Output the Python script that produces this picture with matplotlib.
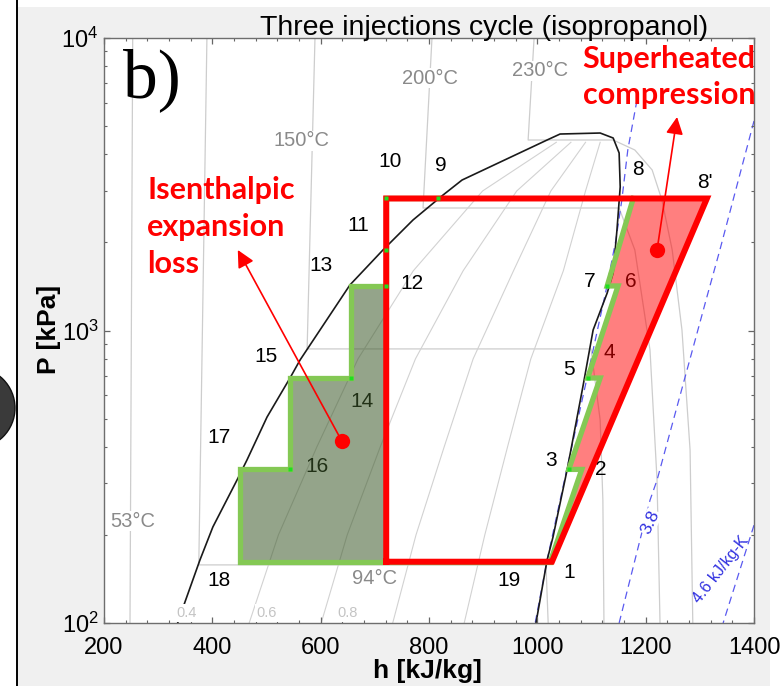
import numpy as np
import matplotlib
matplotlib.use("Agg")
import matplotlib.pyplot as plt
from matplotlib.patches import Rectangle, Ellipse
from matplotlib.lines import Line2D
from matplotlib.ticker import MultipleLocator, LogLocator, NullFormatter, FixedLocator

plt.rcParams['font.family'] = ['Liberation Sans', 'DejaVu Sans']
plt.rcParams['mathtext.fontset'] = 'custom'
plt.rcParams['mathtext.rm'] = 'Liberation Sans'
plt.rcParams['mathtext.it'] = 'Liberation Sans'

# ---------------- data ----------------
title = "Three injections cycle (isopropanol)"
x_label = "h [kJ/kg]"
y_label = "P [kPa]"
x_ticks = [200, 400, 600, 800, 1000, 1200, 1400]
y_ticks = [100, 1000, 10000]

# saturation dome (liquid branch up to the top, then vapour branch down)
sat_h = [336, 349.5, 377, 401, 445.5, 464, 501, 543.4, 562, 654, 715, 770.5, 826, 861,
         1018, 1042, 1116, 1140, 1151, 1153, 1147, 1140, 1129, 1103, 1084, 1055, 1029, 1018, 997.5]
sat_P = [100, 118, 164, 213, 308, 361, 506, 688, 793, 1431, 1885, 2387, 2906, 3269,
         4480, 4696, 4733, 4551, 4045, 3095, 2206, 1573, 1344, 1004, 641, 334, 197, 164, 100]

# isotherms (grey)
iso_53_h = [253, 248]
iso_53_P = [10000, 100]
iso_94_h = [390, 375, 1016, 1020]
iso_94_P = [10000, 158, 158, 100]
iso_150_h = [589.5, 575, 1099, 1116, 1121, 1123]
iso_150_P = [10000, 865, 865, 494, 263, 100]
iso_200_h = [805.5, 789, 1151, 1180, 1208, 1221, 1226.5]
iso_200_P = [10000, 2623, 2623, 1885, 858, 308, 100]
iso_230_h = [994, 983, 1140, 1180, 1212, 1230, 1249, 1267, 1282, 1287]
iso_230_P = [10000, 4480, 4480, 4141, 3538, 2794, 1885, 1004, 390, 100]

# quality lines in the two-phase region (grey)
q_P = [100, 200, 400, 800, 1600, 3000, 4400]
q02_h = [468, 522, 593, 669, 771, 899, 1035]
q04_h = [601, 649, 710, 775, 863, 962, 1062]
q06_h = [733, 776, 828, 881.5, 956, 1025, 1089]
q08_h = [865, 903, 945, 988, 1048, 1089, 1116]

# isentropes (blue dashed)
s1_h = [1184, 1167, 1156, 1145, 1127, 1095, 1055, 1018, 996]
s1_P = [6138, 4141, 2794, 2039, 1376, 733, 339, 164, 100]
s38_h = [1400, 1337, 1313, 1221, 1208, 1151]
s38_P = [5203, 1885, 1302, 308, 263, 100]
s46_h = [1400, 1343]
s46_P = [216, 100]

# cycle: red reference cycle (isenthalpic expansion + single-stage superheated compression)
red_h = [721, 721, 1313, 1027, 721]
red_P = [162, 2827, 2827, 162, 162]

# three-injection cycle (green): compression with vapour injections 1-2-3-4-5-6-7-8
comp_h = [1024, 1082, 1058, 1116, 1093, 1149, 1129, 1177]
comp_P = [162, 335, 335, 688, 688, 1420, 1420, 2827]
# staircase expansion 9-10-...-18-19
exp_h = [817, 721, 721, 656, 656, 543, 543, 451, 451, 721, 1024]
exp_P = [2827, 2827, 1420, 1420, 688, 688, 335, 335, 162, 162, 162]

# shaded areas
loss_h = [721, 656, 656, 543, 543, 451, 451, 721]
loss_P = [1420, 1420, 688, 688, 335, 335, 162, 162]
sup_h = [1024, 1082, 1058, 1116, 1093, 1149, 1129, 1177, 1313, 1027]
sup_P = [162, 335, 335, 688, 688, 1420, 1420, 2827, 2827, 162]

# state markers
mark_h = [817, 721, 721, 721, 656, 543, 1058, 1093, 1129]
mark_P = [2827, 2827, 1885, 1420, 688, 335, 335, 688, 1420]

# state number labels
st_labels = ['1', '2', '3', '4', '5', '6', '7', '8', "8'", '9', '10', '11', '12', '13',
             '14', '15', '16', '17', '18', '19']
st_h = [1058.5, 1117.5, 1025, 1132, 1058.5, 1173, 1097, 1186, 1309.5, 822, 728, 669, 769, 600.6,
        676, 499, 593, 412, 412, 948]
st_P = [149, 334, 358, 838, 733, 1465, 1465, 3538, 3218, 3679, 3797, 2277, 1453, 1662,
        570, 812, 344, 432, 140, 140]

# temperature labels
t_labels = ['53°C', '94°C', '150°C', '200°C', '230°C']
t_h = [253.5, 700, 565.5, 802, 1005]
t_P = [223, 142.5, 4446, 7298, 7715]

# quality labels
q_labels = ['0.4', '0.6', '0.8']
q_lab_h = [353, 501, 649]
q_lab_P = [108, 108, 108]

# arrows: dot -> arrow tip
arrow_dot_h = [639, 1221]
arrow_dot_P = [419, 1885]
arrow_tip_h = [447, 1258]
arrow_tip_P = [1885, 5370]

# ---------------- figure ----------------
W, H = 782, 686
fig = plt.figure(figsize=(W / 100, H / 100), dpi=100)
fig.patch.set_facecolor('white')
fig.add_artist(Rectangle((17 / W, 0), (770 - 17) / W, (H - 7) / H, transform=fig.transFigure,
                         facecolor='#f0f0f0', edgecolor='none', zorder=-2))
fig.add_artist(Line2D([16.5 / W, 16.5 / W], [0, 1], transform=fig.transFigure,
                      color='black', lw=1.4, zorder=-1))
fig.add_artist(Ellipse((-25.6 / W, 1 - 408 / H), 2 * 40.6 / W, 2 * 40.6 / H,
                       transform=fig.transFigure, facecolor='#3a3a3a', edgecolor='#111111',
                       lw=1, zorder=-1))

ax = fig.add_axes([104 / W, 63 / H, 650 / W, 585 / H])
ax.set_facecolor('white')
ax.set_yscale('log')
ax.set_xlim(200, 1400)
ax.set_ylim(100, 10000)

grey = '#cdcdcd'
for hh, pp in [(iso_53_h, iso_53_P), (iso_94_h, iso_94_P), (iso_150_h, iso_150_P),
               (iso_200_h, iso_200_P), (iso_230_h, iso_230_P)]:
    ax.plot(hh, pp, color=grey, lw=0.9, zorder=1)
for qh in [q02_h, q04_h, q06_h, q08_h]:
    ax.plot(qh, q_P, color='#d2d2d2', lw=0.8, zorder=1)

blue = '#5a5af0'
for hh, pp in [(s1_h, s1_P), (s38_h, s38_P), (s46_h, s46_P)]:
    ax.plot(hh, pp, color=blue, lw=0.9, ls=(0, (6, 4)), zorder=1.2)

ax.plot(sat_h, sat_P, color='#1a1a1a', lw=1.2, zorder=1.5)

# state labels (below fills)
for lab, hh, pp in zip(st_labels, st_h, st_P):
    ax.text(hh, pp, lab, ha='center', va='center', fontsize=15, color='black', zorder=2)

for lab, hh, pp in zip(t_labels, t_h, t_P):
    ax.text(hh, pp, lab, ha='center', va='center', fontsize=14.5, color='#8a8a8a', zorder=2,
            bbox=dict(facecolor='white', edgecolor='none', pad=0.5))

for lab, hh, pp in zip(q_labels, q_lab_h, q_lab_P):
    ax.text(hh, pp, lab, ha='center', va='center', fontsize=10.5, color='#c4c4c4', zorder=3,
            clip_on=False, bbox=dict(facecolor='white', edgecolor='none', pad=1.5))

ax.text(1208, 221, '3.8', rotation=65, ha='center', va='center', fontsize=12.5, color='#3030e0',
        zorder=2, bbox=dict(facecolor='white', edgecolor='none', pad=0.5))
ax.text(1339, 152, '4.6 kJ/kg-K', rotation=52, ha='center', va='center', fontsize=11.5,
        color='#3030e0', zorder=2)

# fills
ax.fill(loss_h, loss_P, color='#3d5a2a', alpha=0.55, lw=0, zorder=3)
ax.fill(sup_h, sup_P, color='#ff0000', alpha=0.5, lw=0, zorder=3)

green = '#84c854'
ax.plot(exp_h, exp_P, color=green, lw=3.8, solid_joinstyle='miter', zorder=4)
ax.plot(comp_h, comp_P, color=green, lw=3.8, solid_joinstyle='miter', zorder=4)
ax.plot(red_h, red_P, color='#ff0000', lw=4.3, solid_joinstyle='miter', zorder=5)
ax.plot(mark_h, mark_P, ls='none', marker='s', ms=2.5, color='#1ee01e', mec='none', zorder=6)

# arrows with dots
for dh, dp, th, tp in zip(arrow_dot_h, arrow_dot_P, arrow_tip_h, arrow_tip_P):
    ax.annotate('', xy=(th, tp), xytext=(dh, dp),
                arrowprops=dict(arrowstyle='-|>', color='#ff0000', lw=1.2,
                                mutation_scale=26, shrinkA=0, shrinkB=0), zorder=7)
    ax.plot([dh], [dp], marker='o', ms=11, color='#ff0000', mec='none', zorder=7)

# annotation texts
red_font = dict(family=['Lato', 'DejaVu Sans'], weight='bold', fontsize=22, color='#ff0000',
                transform=ax.transAxes, ha='left', va='baseline', zorder=8)
ax.text((147 - 104) / 650, (623 - 199) / 585, 'Isenthalpic', **red_font)
ax.text((147 - 104) / 650, (623 - 236) / 585, 'expansion', **red_font)
ax.text((147 - 104) / 650, (623 - 273) / 585, 'loss', **red_font)
ax.text((582 - 104) / 650, (623 - 68) / 585, 'Superheated', **red_font)
ax.text((583 - 104) / 650, (623 - 104) / 585, 'compression', **red_font)

ax.text((123 - 104) / 650, (623 - 97) / 585, 'b)', family=['Liberation Serif', 'DejaVu Serif'],
        fontsize=50, transform=ax.transAxes, ha='left', va='baseline', zorder=8)

# axes styling
ax.xaxis.set_major_locator(FixedLocator(x_ticks))
ax.xaxis.set_minor_locator(MultipleLocator(40))
ax.yaxis.set_major_locator(FixedLocator(y_ticks))
ax.yaxis.set_minor_locator(LogLocator(base=10, subs=np.arange(2, 10)))
ax.yaxis.set_minor_formatter(NullFormatter())
ax.tick_params(which='both', direction='in', top=True, right=True, colors='#666666',
               labelcolor='black', labelsize=17)
ax.tick_params(which='major', length=4, width=0.9)
ax.tick_params(which='minor', length=2.5, width=0.8)
ax.tick_params(axis='x', pad=10)
ax.tick_params(axis='y', pad=4)
for sp in ax.spines.values():
    sp.set_color('#6e6e6e')
    sp.set_linewidth(1.0)

fig.text(484 / W, 1 - 35 / H, title, ha='center', va='baseline', fontsize=20.5)
fig.text(427 / W, 1 - 678 / H, x_label, ha='center', va='baseline', fontsize=19, weight='bold')
fig.text(49 / W, 1 - 329 / H, y_label, ha='center', va='center', fontsize=19, weight='bold',
         rotation=90)

fig.savefig('out.png', dpi=100, facecolor=fig.get_facecolor())
